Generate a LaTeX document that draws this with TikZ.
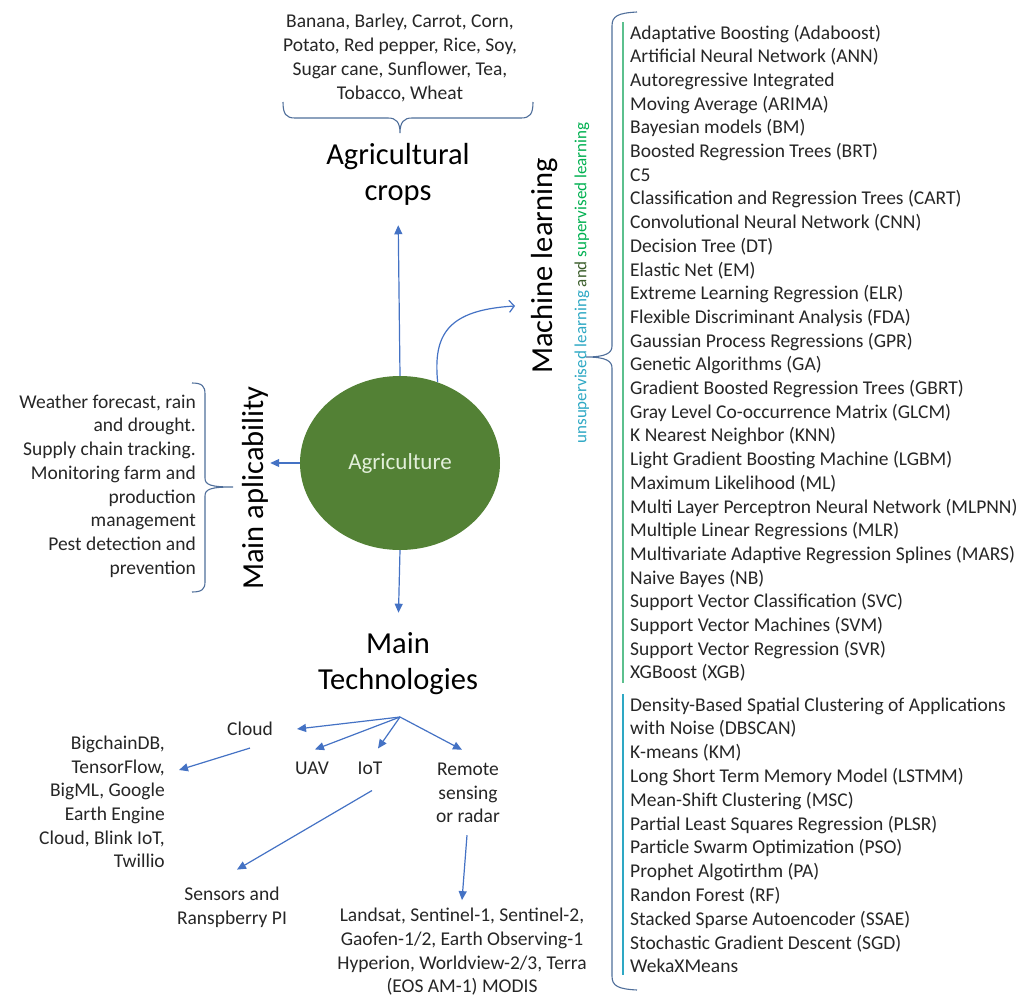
\documentclass[tikz,border=0pt]{standalone}
\usepackage{fontspec}
\setmainfont{Carlito}
\usetikzlibrary{arrows.meta,shapes.geometric}
\definecolor{arrblue}{HTML}{4472C4}
\definecolor{brc}{HTML}{4F6E9A}
\definecolor{agr}{HTML}{538135}
\definecolor{agrtxt}{HTML}{E2EFDA}
\definecolor{txt}{HTML}{262626}
\definecolor{supc}{HTML}{00B050}
\definecolor{unsupc}{HTML}{2EA8C4}
\definecolor{andc}{HTML}{3B5E2B}
\definecolor{supline}{HTML}{5CC08E}
\begin{document}
\begin{tikzpicture}[x=1pt,y=-1pt,
  small/.style={font=\fontsize{19.5}{23.7}\selectfont, text=txt, inner sep=0pt},
  big/.style={font=\fontsize{30.5}{36}\selectfont, text=black, inner sep=0pt},
  arr/.style={draw=arrblue, line width=1.2pt, -{Triangle[length=9pt,width=8pt]}},
  bracestyle/.style={draw=brc, line width=1.1pt},
]
\useasboundingbox (0,0) rectangle (1026,996);

% centre
\node[ellipse, fill=agr, minimum width=200pt, minimum height=174pt, inner sep=0pt,
      font=\fontsize{23}{27}\selectfont, text=agrtxt] (agri) at (400,463) {Agriculture};

% crops
\node[small, align=center] (croplist) at (400,58) {Banana, Barley, Carrot, Corn,\\Potato, Red pepper, Rice, Soy,\\Sugar cane, Sunflower, Tea,\\Tobacco, Wheat};
\draw[bracestyle] (283,102) .. controls (283,114) and (286,118) .. (295,118) -- (388,118)
  .. controls (396,118) and (400,122) .. (400,133) .. controls (400,122) and (404,118) .. (412,118)
  -- (521,118) .. controls (530,118) and (533,114) .. (533,102);
\node[big, align=center] (crops) at (398,174) {Agricultural\\crops};
\draw[arr, shorten >=20pt] (agri.north) -- (crops.south);

% applicability
\node[big, rotate=90] (apl) at (255,488) {Main aplicability};
\draw[arr, shorten >=2pt] (agri.west) -- (agri.west -| apl.south);
\node[small, align=right, anchor=east] (apltxt) at (196,486) {Weather forecast, rain\\and drought.\\Supply chain tracking.\\Monitoring farm and\\production\\management\\Pest detection and\\prevention};
\draw[bracestyle] (192,383) .. controls (202,383) and (205,386) .. (205,394) -- (205,478)
  .. controls (205,485) and (211,487) .. (233,487) .. controls (211,487) and (205,489) .. (205,496)
  -- (205,582) .. controls (205,589) and (202,592) .. (192,592);

% technologies
\node[big, align=center] (tech) at (398,664) {Main\\Technologies};
\draw[arr, shorten >=20pt] (agri.south) -- (tech.north);
\coordinate (tp) at (400,717);
\node[small] (cloud) at (250,729) {Cloud};
\node[small] (uav) at (312,768) {UAV};
\node[small] (iot) at (370,768) {IoT};
\node[small, align=center] (remote) at (468,793) {Remote\\sensing\\or radar};
\coordinate (cloudin) at ([shift={(24,0)}]cloud.east);
\coordinate (uavin) at ([shift={(3,-12)}]uav.north);
\coordinate (iotin) at ([shift={(8,-13)}]iot.north);
\coordinate (remin) at ([shift={(-6,-13)}]remote.north);
\draw[arr] (tp) -- (cloudin);
\draw[arr] (tp) -- (uavin);
\draw[arr] (tp) -- (iotin);
\draw[arr] (tp) -- (remin);

\node[small, align=right, anchor=east] (bigc) at (165,802) {BigchainDB,\\TensorFlow,\\BigML, Google\\Earth Engine\\Cloud, Blink IoT,\\Twillio};
\node[small, align=center] (sens) at (232,907) {Sensors and\\Ranspberry PI};
\node[small, align=center] (land) at (462,952) {Landsat, Sentinel-1, Sentinel-2,\\Gaofen-1/2, Earth Observing-1\\Hyperion, Worldview-2/3, Terra\\(EOS AM-1) MODIS};

\coordinate (cloudout) at ([shift={(0,12)}]cloud.south);
\coordinate (bigcin) at ([shift={(14,-32)}]bigc.east);
\draw[arr] (cloudout) -- (bigcin);
\coordinate (iotout) at ([shift={(2,16)}]iot.south);
\coordinate (sensin) at ([shift={(5,-17)}]sens.north);
\draw[arr] (iotout) -- (sensin);
\coordinate (remout) at ([shift={(-1,12)}]remote.south);
\coordinate (landin) at ([shift={(0,-8)}]land.north);
\draw[arr] (remout) -- (landin);

% machine learning
\node[big, rotate=90] (ml) at (545,266) {Machine learning};
\node[font=\fontsize{17}{20}\selectfont, rotate=90, inner sep=0pt] (mlsub) at (582,283)
  {\textcolor{unsupc}{unsupervised learning} \textcolor{andc}{and} \textcolor{supc}{supervised learning}};
\coordinate (mlin) at (515,306);
\draw[draw=arrblue, line width=1.2pt, -{Straight Barb[length=5pt,width=12pt]}]
  (agri.65) .. controls (433,335) and (447,310) .. (mlin);

\draw[bracestyle] (637,12) .. controls (618,13) and (612,16) .. (612,26) -- (612,346)
  .. controls (612,353) and (606,357) .. (586,357) .. controls (606,357) and (612,361) .. (612,368)
  -- (612,976) .. controls (612,986) and (618,989) .. (637,990);
\draw[supline, line width=1.1pt] (623,22) -- (623,683);
\draw[unsupc, line width=1.1pt] (623,694) -- (623,975);

\foreach \t [count=\i from 0] in {
  {Adaptative Boosting (Adaboost)},
  {Artificial Neural Network (ANN)},
  {Autoregressive Integrated},
  {Moving Average (ARIMA)},
  {Bayesian models (BM)},
  {Boosted Regression Trees (BRT)},
  {C5},
  {Classification and Regression Trees (CART)},
  {Convolutional Neural Network (CNN)},
  {Decision Tree (DT)},
  {Elastic Net (EM)},
  {Extreme Learning Regression (ELR)},
  {Flexible Discriminant Analysis (FDA)},
  {Gaussian Process Regressions (GPR)},
  {Genetic Algorithms (GA)},
  {Gradient Boosted Regression Trees (GBRT)},
  {Gray Level Co-occurrence Matrix (GLCM)},
  {K Nearest Neighbor (KNN)},
  {Light Gradient Boosting Machine (LGBM)},
  {Maximum Likelihood (ML)},
  {Multi Layer Perceptron Neural Network (MLPNN)},
  {Multiple Linear Regressions (MLR)},
  {Multivariate Adaptive Regression Splines (MARS)},
  {Naive Bayes (NB)},
  {Support Vector Classification (SVC)},
  {Support Vector Machines (SVM)},
  {Support Vector Regression (SVR)},
  {XGBoost (XGB)}}
  \node[small, anchor=base west] (s\i) at (630,{39+23.7*\i}) {\t};

\foreach \t [count=\i from 0] in {
  {Density-Based Spatial Clustering of Applications},
  {with Noise (DBSCAN)},
  {K-means (KM)},
  {Long Short Term Memory Model (LSTMM)},
  {Mean-Shift Clustering (MSC)},
  {Partial Least Squares Regression (PLSR)},
  {Particle Swarm Optimization (PSO)},
  {Prophet Algotirthm (PA)},
  {Randon Forest (RF)},
  {Stacked Sparse Autoencoder (SSAE)},
  {Stochastic Gradient Descent (SGD)},
  {WekaXMeans}}
  \node[small, anchor=base west] (u\i) at (630,{711+23.8*\i}) {\t};
\end{tikzpicture}
\end{document}
